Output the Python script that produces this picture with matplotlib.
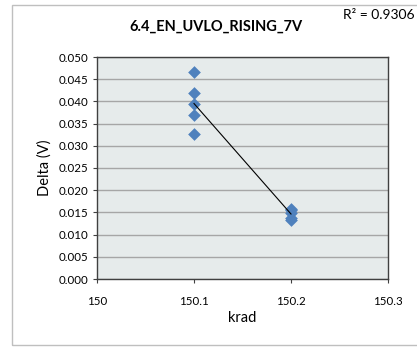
import matplotlib
matplotlib.use("Agg")
import matplotlib.pyplot as plt
import numpy as np

plt.rcParams['font.family'] = ['Lato', 'DejaVu Sans']

krad = [150.1, 150.1, 150.1, 150.1, 150.1, 150.2, 150.2, 150.2, 150.2, 150.2]
delta = [0.0467, 0.0420, 0.0394, 0.0369, 0.0326, 0.0158, 0.0155, 0.0148, 0.0137, 0.0134]
xticks = [150, 150.1, 150.2, 150.3]
xticklabels = ["150", "150.1", "150.2", "150.3"]
yticks = [0.000, 0.005, 0.010, 0.015, 0.020, 0.025, 0.030, 0.035, 0.040, 0.045, 0.050]
title = "6.4_EN_UVLO_RISING_7V"
r2_text = "R² = 0.9306"

fig = plt.figure(figsize=(4.17, 3.47), dpi=100)
fig.patch.set_facecolor('white')
# outer chart border
border = plt.Rectangle((12/417, 2/347), 1.2, 1 - 7/347, transform=fig.transFigure,
                       fill=False, edgecolor='#BFBFBF', linewidth=1.0)
fig.patches.append(border)

ax = fig.add_axes([97/417, 1 - 279/347, (388 - 97)/417, (279 - 57)/347])
ax.set_facecolor('#E6EBEB')
ax.set_xlim(150, 150.3)
ax.set_ylim(0, 0.05)
ax.set_yticks(yticks)
ax.set_yticklabels([f"{v:.3f}" for v in yticks])
ax.set_xticks(xticks)
ax.set_xticklabels(xticklabels)
ax.yaxis.grid(True, color='#A6A6A6', linewidth=1.0)
ax.set_axisbelow(True)
for s in ax.spines.values():
    s.set_color('#404040')
    s.set_linewidth(1.0)
ax.tick_params(axis='both', labelsize=8.3, colors='#404040', labelcolor='black',
               length=3, width=0.8)
ax.tick_params(axis='x', pad=9)

ax.scatter(krad, delta, marker='D', s=42, color='#4F81BD', zorder=3, linewidths=0)

# linear trendline
xa = np.array(krad)
ya = np.array(delta)
m, b = np.polyfit(xa, ya, 1)
xl = np.array([min(krad), max(krad)])
ax.plot(xl, m * xl + b, color='black', linewidth=0.8, zorder=4)

ax.set_xlabel("krad", fontsize=10.5, labelpad=3)
ax.set_ylabel("Delta (V)", fontsize=10.5, labelpad=5)

fig.text(216/417, 1 - 27/347, title, ha='center', va='center', fontsize=10.5, fontweight='bold')
fig.text(343/417, 1 - 15/347, r2_text, ha='left', va='center', fontsize=10)

fig.savefig("out.png", dpi=100)
